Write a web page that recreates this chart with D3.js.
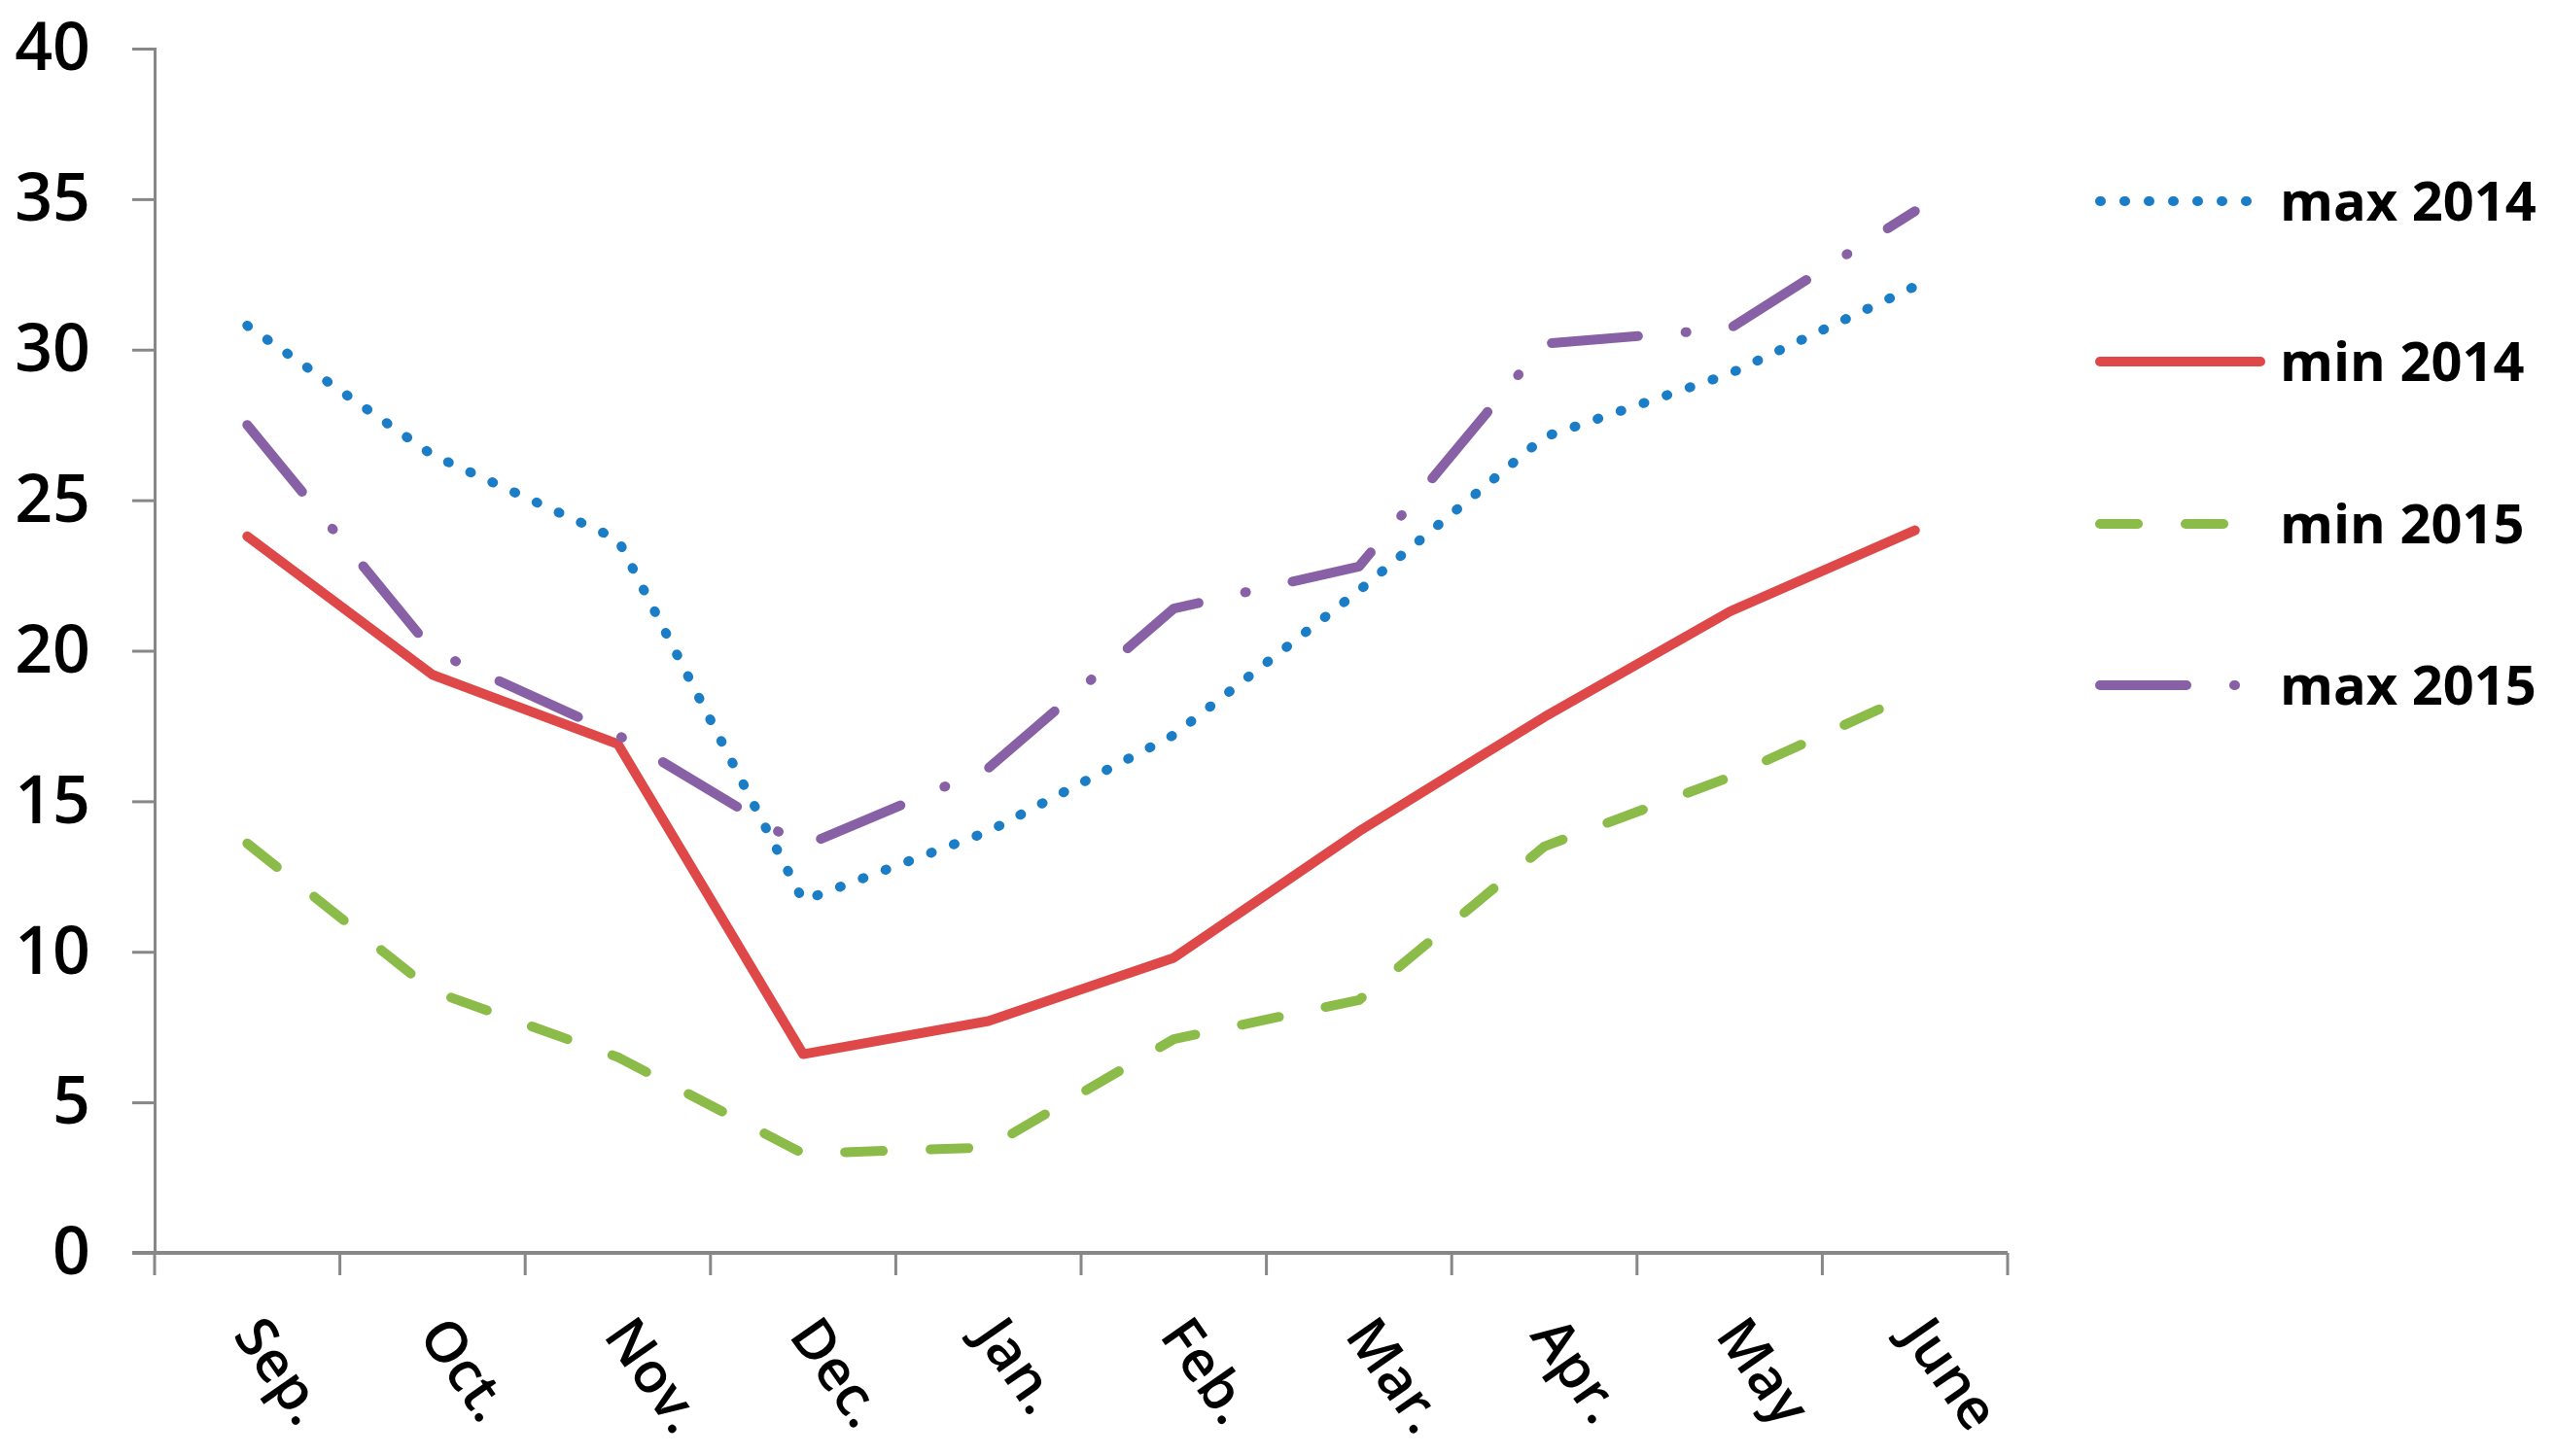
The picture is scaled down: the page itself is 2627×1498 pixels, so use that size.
<!DOCTYPE html>
<html>
<head>
<meta charset="utf-8">
<script src="https://cdn.jsdelivr.net/npm/d3@7"></script>
<style>
  body { margin: 0; background: #fff; }
  svg text { font-family: "Open Sans", sans-serif; fill: #000; }
</style>
</head>
<body>
<svg id="chart" width="2627" height="1498"></svg>
<script>
// data
var months = ["Sep.", "Oct.", "Nov.", "Dec.", "Jan.", "Feb.", "Mar.", "Apr.", "May", "June"];
var max2014 = [30.8, 26.5, 23.7, 11.7, 14.0, 17.2, 22.0, 27.1, 29.2, 32.1];
var min2014 = [23.8, 19.2, 16.9, 6.6, 7.7, 9.8, 14.0, 17.8, 21.3, 24.0];
var min2015 = [13.6, 8.7, 6.5, 3.3, 3.5, 7.1, 8.4, 13.5, 15.8, 18.6];
var max2015 = [27.5, 20.0, 17.2, 13.5, 16.1, 21.4, 22.8, 30.2, 30.7, 34.6];
var yTicks = [0, 5, 10, 15, 20, 25, 30, 35, 40];

var series = [
    { name: "max 2014", values: max2014, color: "#1A7DC6", dash: "1,24" },
    { name: "min 2014", values: min2014, color: "#DE4848", dash: null },
    { name: "min 2015", values: min2015, color: "#8BBC4A", dash: "39,49" },
    { name: "max 2015", values: max2015, color: "#8760A6", dash: "89,49,1,49" }
];

var svg = d3.select("#chart");
var plotLeft = 159, plotRight = 2065, plotTop = 50, plotBottom = 1289;

var x = d3.scaleBand().domain(months).range([plotLeft, plotRight]);
var y = d3.scaleLinear().domain([0, 40]).range([plotBottom, plotTop]);
var axisColor = "#878787";

// y axis
var yAxis = svg.append("g")
    .attr("transform", "translate(" + plotLeft + ",0)")
    .call(d3.axisLeft(y).tickValues(yTicks).tickSize(23).tickPadding(43));
yAxis.select(".domain").attr("stroke", axisColor).attr("stroke-width", 3);
yAxis.selectAll(".tick line").attr("stroke", axisColor).attr("stroke-width", 3);
yAxis.selectAll(".tick text")
    .style("font-size", "68px").style("font-weight", 600)
    .style("font-family", "'Open Sans', sans-serif").attr("fill", "#000");

// x axis, ticks on band edges
var xAxis = svg.append("g")
    .attr("transform", "translate(0," + plotBottom + ")");
xAxis.append("line")
    .attr("x1", plotLeft - 23).attr("x2", plotRight)
    .attr("stroke", axisColor).attr("stroke-width", 4);
var edges = months.map(function (m) { return x(m); }).concat([plotRight]);
xAxis.selectAll(".edge").data(edges).enter().append("line")
    .attr("x1", function (d) { return d; }).attr("x2", function (d) { return d; })
    .attr("y1", 0).attr("y2", 23)
    .attr("stroke", axisColor).attr("stroke-width", 3);
xAxis.selectAll(".lbl").data(months).enter().append("text")
    .attr("transform", function (d) {
        return "translate(" + (x(d) + x.bandwidth() / 2 + 20) + ",60) rotate(55)";
    })
    .attr("dy", "0.75em")
    .style("font-size", "58px").style("font-weight", 600)
    .text(function (d) { return d; });

// lines
var line = d3.line()
    .x(function (d, i) { return x(months[i]) + x.bandwidth() / 2; })
    .y(function (d) { return y(d); });

series.forEach(function (s) {
    svg.append("path")
        .datum(s.values)
        .attr("d", line)
        .attr("fill", "none")
        .attr("stroke", s.color)
        .attr("stroke-width", 10)
        .attr("stroke-linecap", "round")
        .attr("stroke-linejoin", "round")
        .attr("stroke-dasharray", s.dash);
});

// legend
var legendY = [207, 372, 539, 705];
var legend = svg.append("g");
series.forEach(function (s, i) {
    var g = legend.append("g").attr("transform", "translate(0," + legendY[i] + ")");
    g.append("line")
        .attr("x1", 2160).attr("x2", 2325)
        .attr("stroke", s.color).attr("stroke-width", 10)
        .attr("stroke-linecap", "round")
        .attr("stroke-dasharray", s.dash);
    g.append("text")
        .attr("x", 2345).attr("dy", "0.36em")
        .style("font-size", "56px").style("font-weight", 700)
        .text(s.name);
});
</script>
</body>
</html>
